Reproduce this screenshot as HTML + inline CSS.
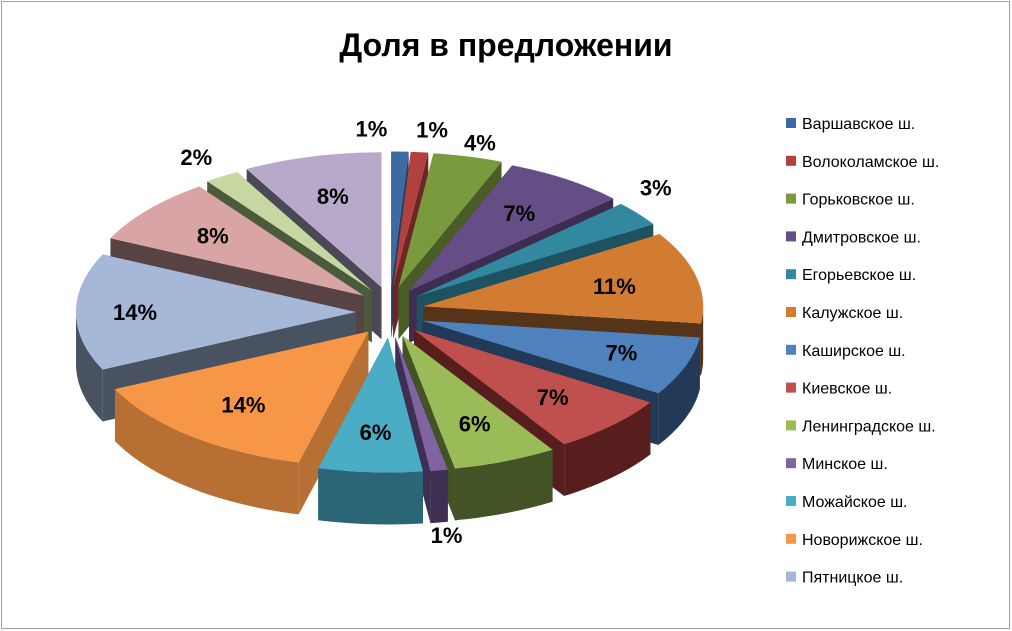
<!DOCTYPE html>
<html><head><meta charset="utf-8">
<style>
body{margin:0;background:#fff;}
#wrap{position:relative;width:1012px;height:631px;overflow:hidden;font-family:"Liberation Sans","Noto Sans CJK SC",sans-serif;}
</style></head>
<body>
<div id="wrap">
<svg id="svg" width="1012" height="631" viewBox="0 0 1012 631">
<rect x="1.5" y="1.5" width="1008" height="627" fill="#fff" stroke="#a0a0a0"/>
<text x="506" y="56" text-anchor="middle" font-size="32" font-weight="bold" fill="#000" font-family="Liberation Sans, sans-serif">Доля в предложении</text>
<g id="slices"></g>
<g id="labels"></g>
<g id="legend"></g>
</svg>
</div>
<script>
const categories=["Варшавское ш.","Волоколамское ш.","Горьковское ш.","Дмитровское ш.","Егорьевское ш.","Калужское ш.","Каширское ш.","Киевское ш.","Ленинградское ш.","Минское ш.","Можайское ш.","Новорижское ш.","Пятницкое ш.","Рублёвское ш.","Рязанское ш.","Симферопольское ш."];
const values=[1,1,4,7,3,11,7,7,6,1,6,14,14,8,2,8];
const labelsText=["1%","1%","4%","7%","3%","11%","7%","7%","6%","1%","6%","14%","14%","8%","2%","8%"];
const legendCount=13;
const topColors=["#3d6aa3","#b0413e","#7a9a3e","#654d86","#32899f","#d27c33","#4f81bd","#c0504d","#9bbb59","#8064a2","#4bacc6","#f79646","#a6b8d8","#d9a5a4","#c6d8a2","#b6a9c9"];
const sideColors=["#253f63","#6a2725","#4a5d26","#3d2e51","#1e5260","#55341a","#223a58","#581e1d","#435326","#3e2f52","#2b6677","#b86f34","#485260","#574343","#4c5a3c","#4b4856"];
const labelShift=[[-30,0],[8,0],[0,8],[0,0],[-20,-12],[0,0],[15,0],[0,0],[0,0],[0,-10],[0,0],[0,0],[-25,0],[0,0],[0,0],[0,0]];
const NS="http://www.w3.org/2000/svg";
const cx=390,cy=312,rx=280,ry=135,depth=52,ex=34;
const total=values.reduce((a,b)=>a+b,0);
const g=document.getElementById('slices');
const lg=document.getElementById('labels');
function pt(ox,oy,t,s){return [ox+rx*s*Math.cos(t),oy+ry*s*Math.sin(t)];}
function mk(tag,attrs){const e=document.createElementNS(NS,tag);for(const k in attrs)e.setAttribute(k,attrs[k]);return e;}
let acc=0;const sl=[];
values.forEach((v,i)=>{const a0=-Math.PI/2+acc/total*2*Math.PI;acc+=v;const a1=-Math.PI/2+acc/total*2*Math.PI;const m=(a0+a1)/2;
 const ox=cx+ex*Math.cos(m),oy=cy+ex*0.75*Math.sin(m);sl.push({i,a0,a1,m,ox,oy});});
const order=sl.slice().sort((a,b)=>Math.sin(a.m)-Math.sin(b.m));
function arcPts(s,t0,t1,dy){const n=Math.max(4,Math.ceil((t1-t0)*40));const p=[];for(let k=0;k<=n;k++){const t=t0+(t1-t0)*k/n;p.push(pt(s.ox,s.oy+dy,t,1));}return p;}
order.forEach(s=>{
 const grp=mk('g',{});
 
 
 const sc=sideColors[s.i],tc=topColors[s.i];
 [s.a0,s.a1].forEach(a=>{const e=pt(s.ox,s.oy,a,1);
  const p=mk('polygon',{points:`${s.ox},${s.oy} ${e[0]},${e[1]} ${e[0]},${e[1]+depth} ${s.ox},${s.oy+depth}`,fill:sc});
  grp.appendChild(p);});
 const t0=Math.max(s.a0,0),t1=Math.min(s.a1,Math.PI);
 if(t1>t0){const top=arcPts(s,t0,t1,0),bot=arcPts(s,t0,t1,depth).reverse();
  const p=mk('polygon',{points:top.concat(bot).map(q=>q.join(',')).join(' '),fill:sc});
  grp.appendChild(p);}
 const tp=[[s.ox,s.oy]].concat(arcPts(s,s.a0,s.a1,0));
 const p=mk('polygon',{points:tp.map(q=>q.join(',')).join(' '),fill:tc});
 grp.appendChild(p);
 g.appendChild(grp);
});
sl.forEach(s=>{const v=values[s.i];let x,y;
 if(v>=6){[x,y]=pt(s.ox,s.oy,s.m,0.7);}
 else{[x,y]=pt(s.ox,s.oy,s.m,1.17);if(Math.sin(s.m)>0)y+=depth;}
 x+=labelShift[s.i][0];y+=labelShift[s.i][1];
 const t=mk('text',{x:x,y:y+8,'text-anchor':'middle','font-size':'22','font-weight':'bold',fill:'#000','font-family':'Liberation Sans, sans-serif'});
 t.textContent=labelsText[s.i];
 
 
 lg.appendChild(t);});
const leg=document.getElementById('legend');
for(let i=0;i<legendCount;i++){const y=123+i*37.8;
 const r=mk('rect',{x:786,y:y-5,width:10,height:10,fill:topColors[i]});
 
 
 leg.appendChild(r);
 const t=mk('text',{x:802,y:y+6,'font-size':'16',fill:'#000','font-family':'Liberation Sans, sans-serif'});
 t.textContent=categories[i];
 
 
 leg.appendChild(t);}
</script>
</body></html>
